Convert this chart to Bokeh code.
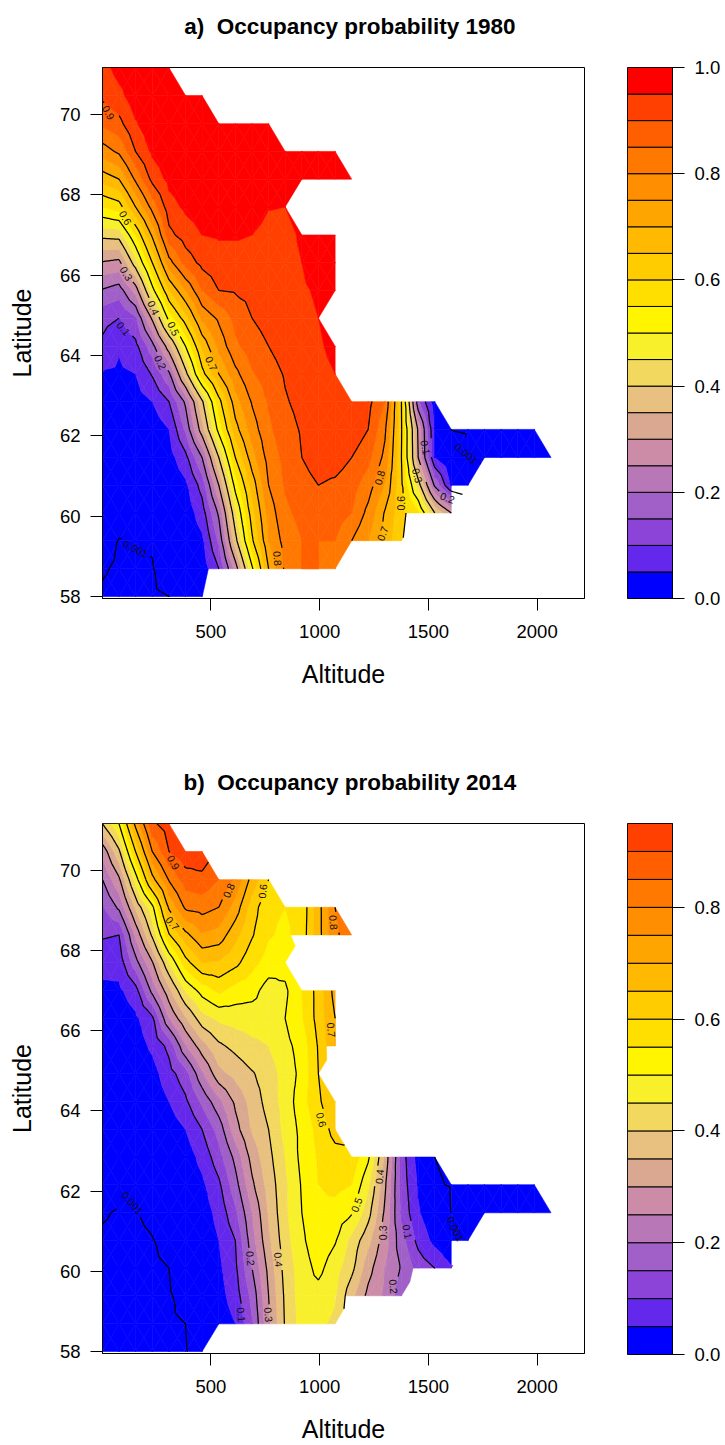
from bokeh.embed import file_html
from bokeh.resources import INLINE
from bokeh.plotting import figure
from bokeh.layouts import column, row
from bokeh.models import FixedTicker, NumeralTickFormatter, Range1d
from bokeh.core.properties import value
import math

ALTITUDE = [1, 77, 153, 230, 307, 383, 459, 536, 612, 689, 765, 841, 918, 994, 1071, 1147, 1223, 1300,
            1376, 1453, 1529, 1605, 1682, 1758, 1835, 1911, 1987, 2064]
LATITUDE = [58, 58.69, 59.39, 60.08, 60.77, 61.46, 62.16, 62.85, 63.54, 64.23, 64.93, 65.62, 66.31,
            67.0, 67.7, 68.39, 69.08, 69.77, 70.47, 71.16]

# Occupancy 1980, one list per latitude row (cells beyond the list are outside the study area)
A00 = [.0007,.0005,.0004,.0006,.0010,.004,.049]
A01 = [.0012,.0007,.0006,.0008,.003,.01,.02,.10,.27,.49,.70,.81,.85,.85,.81]
A02 = [.002,.0009,.0012,.0013,.004,.015,.04,.16,.38,.59,.75,.82,.85,.85,.85,.80,.75,.68,.605]
A03 = [.003,.002,.0018,.002,.007,.02,.075,.21,.44,.63,.77,.84,.865,.875,.875,.85,.785,.695,.615,.56,.40,.30]
A04 = [.005,.005,.004,.006,.012,.04,.12,.30,.52,.67,.80,.855,.88,.90,.89,.87,.825,.745,.61,.43,.19,.045,.002]
A05 = [.008,.009,.008,.012,.03,.085,.20,.40,.60,.73,.82,.865,.90,.925,.925,.90,.865,.785,.60,.30,.05,.006,.0013,.0007,.0005,.0004,.0003,.0002]
A06 = [.012,.015,.012,.02,.05,.16,.33,.52,.68,.775,.84,.88,.905,.925,.935,.935,.90,.81,.605,.29,.045,.0009,.0005,.0004,.0003,.0003,.0002]
A07 = [.02,.025,.03,.05,.10,.21,.39,.58,.73,.805,.855,.895,.915,.93,.935,.93,.915,.85,.60,.16,.02]
A08 = [.046,.042,.05,.105,.19,.38,.58,.70,.785,.845,.875,.905,.925,.94,.95]
A09 = [.09,.055,.085,.18,.33,.50,.66,.765,.84,.875,.90,.925,.94,.945,.96]
A10 = [.115,.10,.145,.31,.52,.63,.76,.81,.865,.90,.92,.93,.94,.95]
A11 = [.195,.175,.27,.48,.65,.75,.85,.90,.905,.915,.925,.935,.945,.955,.965]
A12 = [.295,.285,.43,.60,.78,.87,.915,.93,.93,.935,.935,.94,.95,.97,.975]
A13 = [.415,.42,.55,.71,.885,.925,.95,.955,.955,.95,.935,.94,.955,.97,.975]
A14 = [.55,.575,.70,.82,.93,.96,.975,.98,.98,.975,.952,.95]
A15 = [.67,.70,.81,.915,.965,.985,.99,.99,.99,.985,.975,.97,.965,.97,.975,.98]
A16 = [.775,.81,.90,.96,.99,.995,.995,.995,.995,.995,.99,.985,.98,.98,.985]
A17 = [.86,.885,.945,.985,.995,.995,.995,.995,.995,.995,.995]
A18 = [.91,.935,.98,.99,.995,.995,.995]
A19 = [.93,.97,.99,.99,.99]
OCC_1980 = [A00,A01,A02,A03,A04,A05,A06,A07,A08,A09,A10,A11,A12,A13,A14,A15,A16,A17,A18,A19]

# Occupancy 2014
B00 = [.0007,.0006,.0005,.0005,.0006,.0008,.0025]
B01 = [.0007,.0006,.0006,.0006,.0007,.001,.004,.02,.05,.145,.29,.405,.47,.46,.44]
B02 = [.0007,.0006,.0006,.0006,.0007,.002,.007,.03,.075,.165,.30,.41,.475,.48,.455,.365,.285,.24,.17]
B03 = [.0007,.0006,.0006,.0007,.001,.004,.012,.04,.09,.20,.315,.42,.475,.515,.47,.415,.32,.25,.195,.13,.10,.055]
B04 = [.0007,.0006,.0006,.0009,.0017,.006,.02,.05,.10,.23,.34,.43,.49,.535,.505,.435,.365,.27,.17,.085,.035,.002,.0008]
B05 = [.0012,.0008,.0009,.0015,.003,.008,.025,.065,.14,.25,.355,.44,.50,.54,.53,.505,.42,.29,.14,.055,.012,.0008,.0006,.0005,.0004,.0004,.0003,.0002]
B06 = [.003,.0011,.0014,.004,.009,.02,.04,.09,.18,.29,.37,.44,.505,.55,.565,.55,.46,.31,.13,.045,.0018,.0005,.0004,.0003,.0003,.0003,.0002]
B07 = [.004,.003,.004,.006,.01,.025,.065,.13,.215,.32,.385,.45,.515,.555,.58,.585,.51,.34,.125,.03,.001]
B08 = [.005,.005,.007,.012,.025,.05,.10,.17,.28,.355,.40,.465,.515,.565,.62]
B09 = [.007,.007,.01,.02,.05,.09,.16,.235,.31,.37,.42,.47,.53,.59,.65]
B10 = [.01,.01,.015,.03,.08,.13,.24,.335,.365,.395,.425,.47,.515,.60]
B11 = [.014,.015,.025,.06,.115,.245,.33,.39,.415,.44,.45,.485,.52,.605,.70]
B12 = [.02,.02,.04,.09,.25,.345,.43,.46,.47,.47,.47,.50,.545,.62,.70]
B13 = [.037,.04,.08,.215,.335,.455,.52,.56,.53,.52,.475,.49,.55,.62,.72]
B14 = [.07,.07,.18,.295,.45,.58,.65,.645,.615,.565,.53,.52]
B15 = [.105,.10,.26,.41,.595,.685,.745,.73,.665,.605,.555,.54,.57,.68,.79,.83]
B16 = [.145,.21,.36,.485,.71,.81,.82,.80,.73,.625,.56,.55,.565,.68,.80]
B17 = [.20,.29,.47,.68,.805,.875,.887,.85,.79,.68,.60]
B18 = [.265,.39,.60,.80,.90,.935,.93]
B19 = [.40,.50,.715,.89,.925]
OCC_2014 = [B00,B01,B02,B03,B04,B05,B06,B07,B08,B09,B10,B11,B12,B13,B14,B15,B16,B17,B18,B19]

LEVELS_A = [round(i * 0.05, 2) for i in range(21)]
LEVELS_B = [round(i * 0.05, 2) for i in range(20)]
BAND_COLOURS = ["#0000FF", "#6428EC", "#8C44D8", "#A060C8", "#B878B8", "#CC8CA8", "#DAA890", "#E8C080",
                "#F3D860", "#F9F02C", "#FFF500", "#FFDF00", "#FFCC00", "#FFB900", "#FFA500", "#FF8F00",
                "#FF7800", "#FF5F00", "#FF4000", "#FF0000"]
LINE_LEVELS = [0.001, 0.1, 0.2, 0.3, 0.4, 0.5, 0.6, 0.7, 0.8, 0.9]

# (text, altitude, latitude, angle in degrees)
LABELS_A = [("0.9",29,70.05,-60),("0.6",107,67.43,-60),("0.3",111,66.04,-60),("0.1",98,64.67,-50),
            ("0.4",236,65.19,-65),("0.5",328,64.67,-65),("0.2",268,63.83,-65),("0.7",502,63.80,-65),
            ("0.001",153,59.19,-25),("0.8",806,58.95,-85),("0.8",1275,60.96,75),("0.7",1289,59.57,70),
            ("0.6",1372,60.32,90),("0.3",1450,61.01,-75),("0.1",1487,61.71,-80),("0.2",1588,60.46,-20),
            ("0.001",1675,61.56,-40)]
LABELS_B = [("0.9",328,70.20,-60),("0.8",581,69.50,65),("0.6",737,69.48,85),("0.8",1064,68.70,-85),
            ("0.7",323,68.68,-50),("0.7",1054,66.02,-85),("0.6",1008,63.78,-75),("0.5",1169,61.66,70),
            ("0.4",811,60.29,-85),("0.2",682,60.32,-85),("0.1",640,58.92,-85),("0.3",765,58.92,-85),
            ("0.001",139,61.71,-50),("0.4",1275,62.36,85),("0.3",1289,60.96,90),("0.1",1404,60.99,-80),
            ("0.2",1340,59.62,-85),("0.001",1625,61.06,-65)]

TITLE_A = "a)\u00a0 Occupancy probability 1980"
TITLE_B = "b)\u00a0 Occupancy probability 2014"
FONT = "Liberation Sans"
PX_X, PX_Y = 1 / 4.6, 40.17  # pixels per data unit, used only to size the gaps round contour labels


def corner(rows, j, r):
    if r < len(rows) and j < len(rows[r]):
        return (ALTITUDE[j], LATITUDE[r], rows[r][j])
    return None


def clip(poly, level, above):
    out = []
    n = len(poly)
    for i in range(n):
        p, q = poly[i], poly[(i + 1) % n]
        pin = p[2] >= level if above else p[2] <= level
        qin = q[2] >= level if above else q[2] <= level
        if pin:
            out.append(p)
        if pin != qin:
            t = (level - p[2]) / (q[2] - p[2])
            out.append((p[0] + t * (q[0] - p[0]), p[1] + t * (q[1] - p[1]), level))
    return out


def triangles(rows):
    """Yield (triangle, z of the low corner if the triangle is only partly filled)."""
    for r in range(len(rows) - 1):
        for j in range(len(ALTITUDE) - 1):
            a, b, c, d = corner(rows, j, r), corner(rows, j + 1, r), corner(rows, j + 1, r + 1), corner(rows, j, r + 1)
            have = [v for v in (a, b, c, d) if v]
            if len(have) == 4:
                m = tuple(sum(v[i] for v in have) / 4 for i in range(3))
                for p, q in ((a, b), (b, c), (c, d), (d, a)):
                    yield (p, q, m), None
            elif len(have) == 3:
                yield tuple(have), (a[2] if b is None and a else None)


def contour_panel(p, rows, levels, labels):
    xs, ys, cols = [], [], []
    line_x, line_y = [], []
    gaps = [(float(t), x, y, 17 if t == "0.001" else 11) for t, x, y, _ in labels]
    for tri, only in triangles(rows):
        for k in range(len(levels) - 1):
            lo, hi = levels[k], levels[k + 1]
            if only is not None and not (lo <= only < hi):
                continue
            poly = clip(clip(list(tri), lo, True), hi, False)
            if len(poly) >= 3:
                xs.append([v[0] for v in poly])
                ys.append([v[1] for v in poly])
                cols.append(BAND_COLOURS[k])
        for lev in LINE_LEVELS:
            pts = []
            for i in range(3):
                u, w = tri[i], tri[(i + 1) % 3]
                zu, zw = u[2] - lev - 1e-9, w[2] - lev - 1e-9
                if zu * zw < 0:
                    t = zu / (zu - zw)
                    pts.append((u[0] + t * (w[0] - u[0]), u[1] + t * (w[1] - u[1])))
            if len(pts) == 2:
                mine = [g for g in gaps if g[0] == lev]
                n = 12 if mine else 1
                prev = None
                for s in range(n):
                    s0, s1 = s / n, (s + 1) / n
                    x0 = pts[0][0] + s0 * (pts[1][0] - pts[0][0]); y0 = pts[0][1] + s0 * (pts[1][1] - pts[0][1])
                    x1 = pts[0][0] + s1 * (pts[1][0] - pts[0][0]); y1 = pts[0][1] + s1 * (pts[1][1] - pts[0][1])
                    xm, ym = (x0 + x1) / 2, (y0 + y1) / 2
                    if any(math.hypot((xm - g[1]) * PX_X, (ym - g[2]) * PX_Y) < g[3] for g in mine):
                        prev = None
                        continue
                    if prev is None:
                        line_x += [float("nan"), x0]
                        line_y += [float("nan"), y0]
                    line_x.append(x1)
                    line_y.append(y1)
                    prev = True
    p.patches(xs, ys, fill_color=cols, line_color=cols, line_width=0.6)
    p.line(line_x, line_y, line_color="black", line_width=1.25)
    p.text([l[1] for l in labels], [l[2] for l in labels], text=[l[0] for l in labels],
           angle=[l[3] for l in labels], angle_units="deg", text_align="center", text_baseline="middle",
           text_font=value(FONT), text_font_size="10.5px", text_color="#111111")


def style_axis(ax, size="18.5px"):
    ax.major_tick_out = 12
    ax.major_tick_in = 0
    ax.minor_tick_out = 0
    ax.minor_tick_in = 0
    ax.axis_line_color = "black"
    ax.major_tick_line_color = "black"
    ax.major_label_text_font = FONT
    ax.major_label_text_font_size = size
    ax.major_label_text_color = "black"
    ax.axis_label_text_font = FONT
    ax.axis_label_text_font_size = "25px"
    ax.axis_label_text_font_style = "normal"
    ax.axis_label_text_color = "black"


def title_band(title, height, baseline):
    # a blank strip whose scales are the strip's own pixels, holding only the panel's title
    p = figure(width=608, height=height, output_backend="svg", toolbar_location=None,
               x_range=Range1d(0, 608), y_range=Range1d(height, 0), x_axis_type=None, y_axis_type=None,
               min_border=0)
    p.grid.visible = False
    p.outline_line_color = None
    p.text([312], [baseline], text=[title], text_align="center", text_baseline="alphabetic",
           text_font=value(FONT), text_font_size="22.5px", text_font_style="bold", text_color="black")
    return p


def main_panel(rows, labels, levels, bottom):
    p = figure(width=608, height=1 + 531 + bottom, output_backend="svg", toolbar_location=None,
               x_range=Range1d(1, 2218), y_range=Range1d(57.95, 71.17),
               min_border_left=102, min_border_right=24, min_border_top=1, min_border_bottom=bottom)
    p.grid.visible = False
    p.outline_line_color = "black"
    p.outline_line_width = 1
    p.background_fill_color = "white"
    p.xaxis.ticker = FixedTicker(ticks=[500, 1000, 1500, 2000])
    p.yaxis.ticker = FixedTicker(ticks=[58, 60, 62, 64, 66, 68, 70])
    style_axis(p.xaxis[0])
    style_axis(p.yaxis[0])
    p.xaxis.major_label_standoff = 14
    p.yaxis.major_label_standoff = 10
    p.yaxis.major_label_orientation = "horizontal"
    p.xaxis.axis_label = "Altitude"
    p.yaxis.axis_label = "Latitude"
    p.xaxis.axis_label_standoff = 19
    p.yaxis.axis_label_standoff = 21
    contour_panel(p, rows, levels, labels)
    return p


def key_panel(levels, ticks, top, bottom):
    p = figure(width=117, height=top + 531 + bottom, output_backend="svg", toolbar_location=None,
               x_range=Range1d(0, 1), y_range=Range1d(0, levels[-1]), y_axis_location="right",
               min_border_left=19, min_border_right=53, min_border_top=top, min_border_bottom=bottom)
    p.grid.visible = False
    p.xaxis.visible = False
    p.outline_line_color = "black"
    p.quad(left=0, right=1, bottom=levels[:-1], top=levels[1:], fill_color=BAND_COLOURS[:len(levels) - 1],
           line_color="black", line_width=1)
    p.yaxis.ticker = FixedTicker(ticks=ticks)
    p.yaxis.formatter = NumeralTickFormatter(format="0.0")
    style_axis(p.yaxis[0])
    p.yaxis.major_label_standoff = 10
    return p


BOTTOM_A, BOTTOM_B = 100, 91
page = column(
    row(column(title_band(TITLE_A, 66, 26),
               main_panel(OCC_1980, LABELS_A, LEVELS_A, BOTTOM_A), spacing=0),
        key_panel(LEVELS_A, [0, .2, .4, .6, .8, 1.0], 67, BOTTOM_A), spacing=0),
    row(column(title_band(TITLE_B, 124, 84),
               main_panel(OCC_2014, LABELS_B, LEVELS_B, BOTTOM_B), spacing=0),
        key_panel(LEVELS_B, [0, .2, .4, .6, .8], 125, BOTTOM_B), spacing=0),
    spacing=0)
open("out.html", "w").write(file_html(page, INLINE))
